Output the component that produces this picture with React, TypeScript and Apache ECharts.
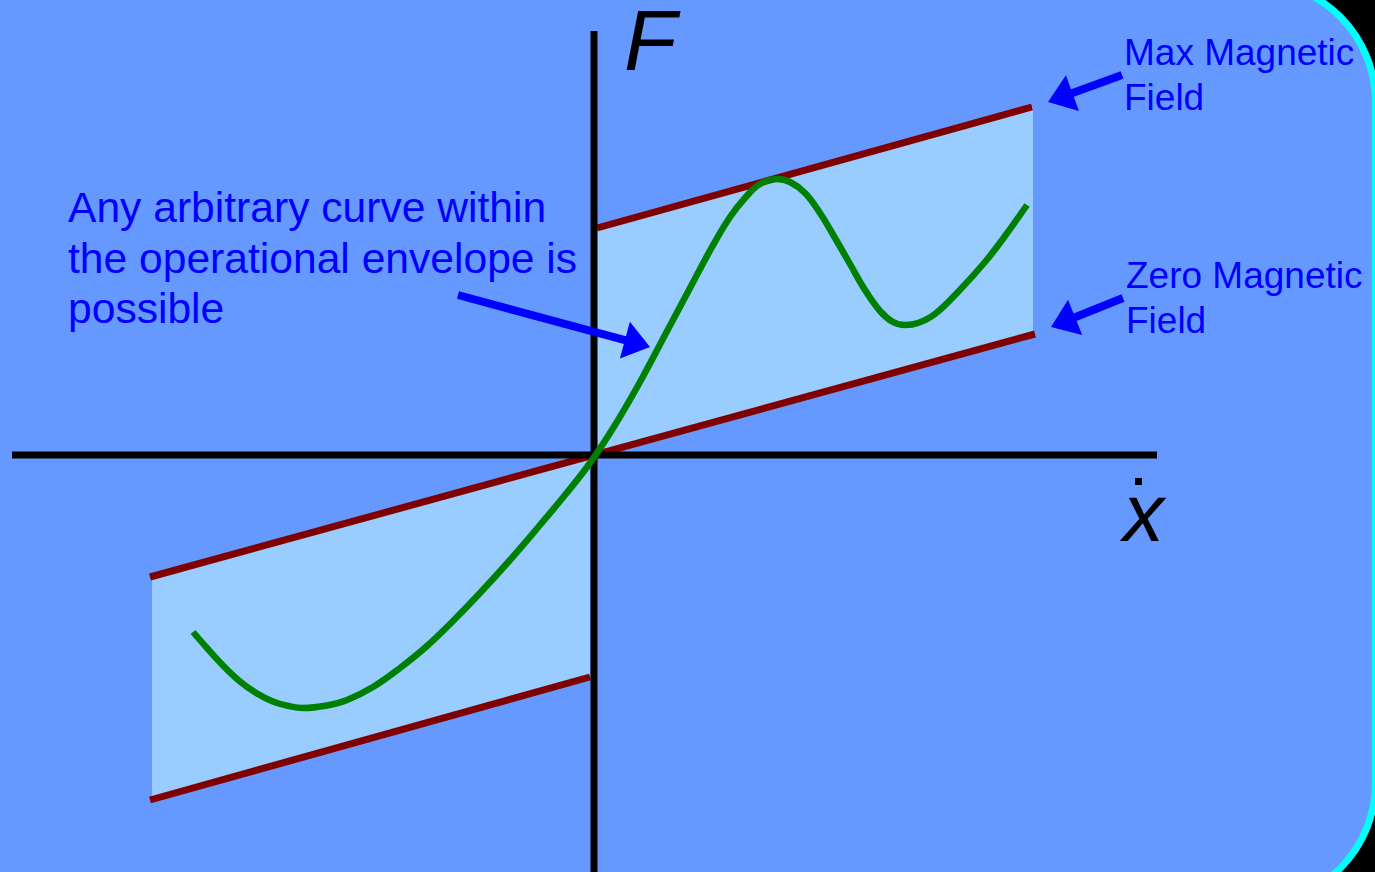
import React, { useEffect, useRef } from "react";
import * as echarts from "echarts";

// ---- data (abstract units: x = velocity x-dot, y = force F) ----
const X_MIN = -5.94, X_MAX = 7.81, Y_MIN = -4.17, Y_MAX = 4.55;

const maxFieldLine: number[][] = [[0.03, 2.27], [4.38, 3.48]];
const zeroFieldLine: number[][] = [[-4.44, -1.22], [4.41, 1.21]];
const lowerLeftLine: number[][] = [[-4.44, -3.45], [-0.04, -2.22]];

const rightEnvelope: number[][] = [[0.0, 2.27], [4.39, 3.48], [4.39, 1.207], [0.0, 0.0]];
const leftEnvelope: number[][] = [[-4.42, -1.215], [-0.04, -0.011], [-0.04, -2.22], [-4.42, -3.44]];

const xAxisLine: number[][] = [[-5.82, 0], [5.63, 0]];
const yAxisLine: number[][] = [[0, 4.24], [0, Y_MIN]];

const curveX = [-4.01, -3.87, -3.71, -3.54, -3.37, -3.21, -3.04, -2.91, -2.67, -2.47, -2.21, -1.94, -1.67, -1.41, -1.14, -0.84, -0.54, -0.29, -0.04, 0.21, 0.46, 0.71, 0.96, 1.18, 1.36, 1.51, 1.66, 1.83, 1.96, 2.11, 2.26, 2.41, 2.56, 2.71, 2.86, 2.99, 3.11, 3.24, 3.41, 3.63, 3.91, 4.11, 4.33];
const curveY = [-1.77, -1.93, -2.105, -2.265, -2.385, -2.465, -2.513, -2.53, -2.505, -2.45, -2.32, -2.13, -1.91, -1.66, -1.38, -1.05, -0.70, -0.40, -0.08, 0.30, 0.73, 1.20, 1.67, 2.08, 2.38, 2.57, 2.71, 2.76, 2.73, 2.62, 2.42, 2.17, 1.91, 1.65, 1.44, 1.33, 1.30, 1.32, 1.41, 1.62, 1.93, 2.19, 2.50];

// arrows: [tailX, tailY, tipX, tipY]
const arrows: number[][] = [
  [-1.36, 1.6, 0.56, 1.08],
  [5.28, 3.8, 4.54, 3.53],
  [5.29, 1.57, 4.57, 1.28],
];

const noteLines = ["Any arbitrary curve within", "the operational envelope is", "possible"];
const maxLabel = ["Max Magnetic", "Field"];
const zeroLabel = ["Zero Magnetic", "Field"];

const FONT = "'Liberation Sans', Arial, Helvetica, sans-serif";
const BG = "#6699FF";
const FILL = "#99CCFF";
const RED = "#800000";
const GREEN = "#008000";
const BLUE = "#0000FF";

function lineSeries(data: number[][], color: string, width: number, z: number) {
  return {
    type: "line",
    data,
    showSymbol: false,
    symbol: "none",
    clip: false,
    z,
    lineStyle: { color, width, cap: "butt" },
    silent: true,
  };
}

export default function App() {
  const ref = useRef<HTMLDivElement>(null);
  useEffect(() => {
    const chart = echarts.init(ref.current!, undefined, { renderer: "svg" });
    const envelopes = [rightEnvelope, leftEnvelope];
    const option: any = {
      animation: false,
      backgroundColor: "transparent",
      grid: { left: 0, right: 0, top: 0, bottom: 0 },
      xAxis: { type: "value", min: X_MIN, max: X_MAX, show: false },
      yAxis: { type: "value", min: Y_MIN, max: Y_MAX, show: false },
      graphic: [
        {
          type: "text",
          z: 50,
          x: 68,
          y: 182,
          style: { text: noteLines.join("\n"), font: `42.6px ${FONT}`, fill: BLUE, lineHeight: 50.5, verticalAlign: "top", align: "left" },
        },
        {
          type: "text",
          z: 50,
          x: 1124,
          y: 30,
          style: { text: maxLabel.join("\n"), font: `37px ${FONT}`, fill: BLUE, lineHeight: 45, verticalAlign: "top", align: "left" },
        },
        {
          type: "text",
          z: 50,
          x: 1126,
          y: 253,
          style: { text: zeroLabel.join("\n"), font: `37px ${FONT}`, fill: BLUE, lineHeight: 45, verticalAlign: "top", align: "left" },
        },
        {
          type: "text",
          z: 50,
          x: 624,
          y: 40,
          style: { text: "F", font: `italic 86px ${FONT}`, fill: "#000000", lineHeight: 60, verticalAlign: "middle", align: "left" },
        },
        {
          type: "text",
          z: 50,
          x: 1123,
          y: 512,
          style: { text: "x", font: `italic 82px ${FONT}`, fill: "#000000", lineHeight: 60, verticalAlign: "middle", align: "left" },
        },
        {
          type: "rect",
          z: 50,
          shape: { x: 1135, y: 478, width: 7, height: 7 },
          style: { fill: "#000000" },
        },
      ],
      series: [
        {
          type: "custom",
          z: 1,
          silent: true,
          clip: false,
          data: envelopes.map((p) => [p[0][0], p[0][1]]),
          renderItem: (params: any, api: any) => {
            const poly = envelopes[params.dataIndex];
            return {
              type: "polygon",
              shape: { points: poly.map((p) => api.coord(p)) },
              style: { fill: FILL },
            };
          },
        },
        lineSeries(maxFieldLine, RED, 7, 3),
        lineSeries(zeroFieldLine, RED, 7, 3),
        lineSeries(lowerLeftLine, RED, 7, 3),
        lineSeries(xAxisLine, "#000000", 7, 4),
        lineSeries(yAxisLine, "#000000", 7, 4),
        {
          ...lineSeries(curveX.map((x, i) => [x, curveY[i]]), GREEN, 6.5, 5),
          smooth: 0.4,
        },
        {
          type: "custom",
          z: 6,
          silent: true,
          clip: false,
          encode: { x: [0, 2], y: [1, 3] },
          data: arrows,
          renderItem: (params: any, api: any) => {
            const a = arrows[params.dataIndex];
            const p0 = api.coord([a[0], a[1]]);
            const p1 = api.coord([a[2], a[3]]);
            const dx = p1[0] - p0[0], dy = p1[1] - p0[1];
            const len = Math.hypot(dx, dy);
            const ux = dx / len, uy = dy / len;
            const nx = -uy, ny = ux;
            const headL = 26, headW = 38;
            const bx = p1[0] - ux * headL, by = p1[1] - uy * headL;
            return {
              type: "group",
              children: [
                {
                  type: "line",
                  shape: { x1: p0[0], y1: p0[1], x2: bx + ux * 2, y2: by + uy * 2 },
                  style: { stroke: BLUE, lineWidth: 8 },
                },
                {
                  type: "polygon",
                  shape: {
                    points: [
                      [p1[0], p1[1]],
                      [bx + (nx * headW) / 2, by + (ny * headW) / 2],
                      [bx - (nx * headW) / 2, by - (ny * headW) / 2],
                    ],
                  },
                  style: { fill: BLUE },
                },
              ],
            };
          },
        },
      ],
    };
    chart.setOption(option);
    return () => chart.dispose();
  }, []);
  return (
    <div style={{ position: "fixed", left: 0, top: 0, width: 1375, height: 872, background: "#000000", overflow: "hidden" }}>
      <div
        style={{
          position: "absolute",
          left: -300,
          top: -22,
          width: 1679,
          height: 929,
          boxSizing: "border-box",
          border: "7px solid #00FFFF",
          borderRadius: 124,
          background: BG,
        }}
      />
      <div ref={ref} style={{ position: "absolute", left: 0, top: 0, width: 1375, height: 872 }} />
    </div>
  );
}
